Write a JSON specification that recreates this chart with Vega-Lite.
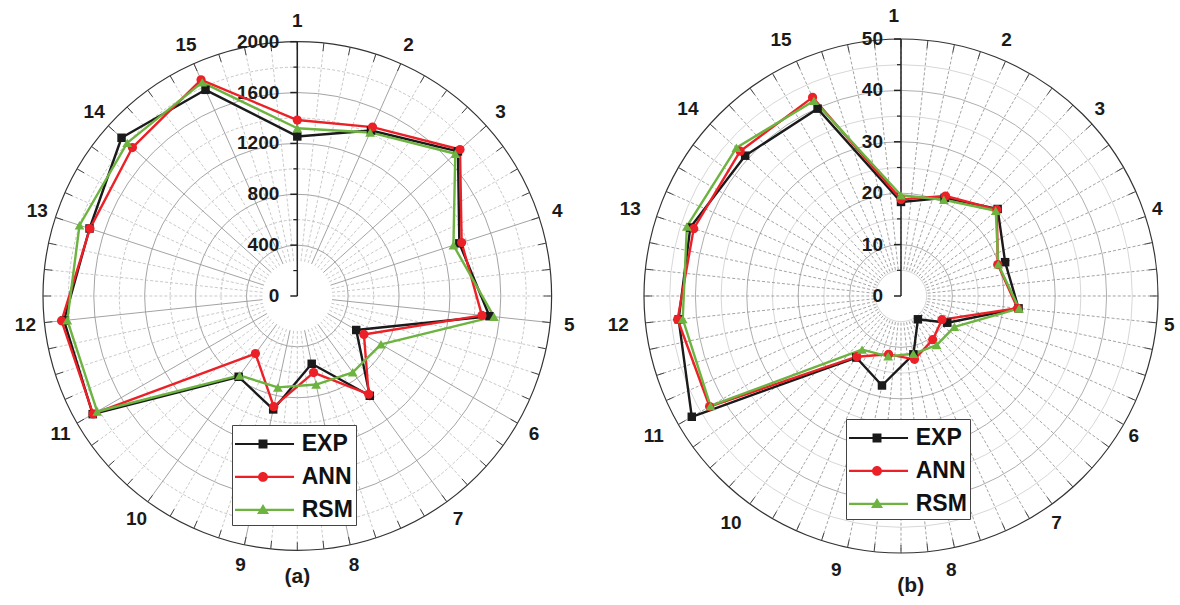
{
  "$schema": "https://vega.github.io/schema/vega-lite/v6.json",
  "width": 1180,
  "height": 605,
  "padding": 0,
  "autosize": {"type": "none"},
  "background": "white",
  "config": {"view": {"stroke": null}},
  "datasets": {
    "a": [
      {"n": 1, "EXP": 1255, "ANN": 1384, "RSM": 1319},
      {"n": 2, "EXP": 1425, "ANN": 1454, "RSM": 1408},
      {"n": 3, "EXP": 1700, "ANN": 1722, "RSM": 1672},
      {"n": 4, "EXP": 1340, "ANN": 1359, "RSM": 1291},
      {"n": 5, "EXP": 1520, "ANN": 1460, "RSM": 1555},
      {"n": 6, "EXP": 535, "ANN": 605, "RSM": 760},
      {"n": 7, "EXP": 970, "ANN": 955, "RSM": 742},
      {"n": 8, "EXP": 545, "ANN": 616, "RSM": 712},
      {"n": 9, "EXP": 912, "ANN": 890, "RSM": 735},
      {"n": 10, "EXP": 785, "ANN": 560, "RSM": 772},
      {"n": 11, "EXP": 1858, "ANN": 1855, "RSM": 1817},
      {"n": 12, "EXP": 1845, "ANN": 1864, "RSM": 1819},
      {"n": 13, "EXP": 1718, "ANN": 1715, "RSM": 1801},
      {"n": 14, "EXP": 1860, "ANN": 1745, "RSM": 1800},
      {"n": 15, "EXP": 1775, "ANN": 1861, "RSM": 1839}
    ],
    "b": [
      {"n": 1, "EXP": 18.3, "ANN": 18.8, "RSM": 19.6},
      {"n": 2, "EXP": 20.9, "ANN": 21.3, "RSM": 20.5},
      {"n": 3, "EXP": 25.3, "ANN": 25.1, "RSM": 24.8},
      {"n": 4, "EXP": 21.3, "ANN": 19.8, "RSM": 19.9},
      {"n": 5, "EXP": 23.0, "ANN": 22.8, "RSM": 23.1},
      {"n": 6, "EXP": 10.4, "ANN": 9.2, "RSM": 12.0},
      {"n": 7, "EXP": 5.6, "ANN": 10.5, "RSM": 11.8},
      {"n": 8, "EXP": 11.6, "ANN": 12.6, "RSM": 11.5},
      {"n": 9, "EXP": 17.8, "ANN": 11.6, "RSM": 12.0},
      {"n": 10, "EXP": 14.8, "ANN": 14.6, "RSM": 12.9},
      {"n": 11, "EXP": 47.0, "ANN": 43.0, "RSM": 42.8},
      {"n": 12, "EXP": 43.5, "ANN": 43.7, "RSM": 42.7},
      {"n": 13, "EXP": 43.1, "ANN": 42.4, "RSM": 43.8},
      {"n": 14, "EXP": 40.8, "ANN": 42.1, "RSM": 43.1},
      {"n": 15, "EXP": 39.9, "ANN": 42.3, "RSM": 41.6}
    ],
    "ang": [
      {"ang": 0}, {"ang": 6}, {"ang": 12}, {"ang": 18}, {"ang": 24}, {"ang": 30}, {"ang": 36}, {"ang": 42}, {"ang": 48}, {"ang": 54},
      {"ang": 60}, {"ang": 66}, {"ang": 72}, {"ang": 78}, {"ang": 84}, {"ang": 90}, {"ang": 96}, {"ang": 102}, {"ang": 108}, {"ang": 114},
      {"ang": 120}, {"ang": 126}, {"ang": 132}, {"ang": 138}, {"ang": 144}, {"ang": 150}, {"ang": 156}, {"ang": 162}, {"ang": 168}, {"ang": 174},
      {"ang": 180}, {"ang": 186}, {"ang": 192}, {"ang": 198}, {"ang": 204}, {"ang": 210}, {"ang": 216}, {"ang": 222}, {"ang": 228}, {"ang": 234},
      {"ang": 240}, {"ang": 246}, {"ang": 252}, {"ang": 258}, {"ang": 264}, {"ang": 270}, {"ang": 276}, {"ang": 282}, {"ang": 288}, {"ang": 294},
      {"ang": 300}, {"ang": 306}, {"ang": 312}, {"ang": 318}, {"ang": 324}, {"ang": 330}, {"ang": 336}, {"ang": 342}, {"ang": 348}, {"ang": 354}
    ]
  },
  "layer": [
    {
      "layer": [
        {
          "data": {"values": [{"v": 600}, {"v": 1000}, {"v": 1400}, {"v": 1800}]},
          "mark": {"type": "arc", "filled": false, "fill": null, "stroke": "#b8b8b8", "strokeWidth": 0.8, "strokeDash": [3, 2], "theta": 0, "theta2": 6.283185307179586},
          "encoding": {
            "x": {"datum": 0, "type": "quantitative", "scale": {"domain": [-2338.2, 6942.2], "nice": false, "zero": false}, "axis": null},
            "y": {"datum": 0, "type": "quantitative", "scale": {"domain": [-2430.2, 2328.0], "nice": false, "zero": false}, "axis": null},
            "radius": {"field": "v", "type": "quantitative", "stack": null, "scale": {"type": "linear", "domain": [0, 2000], "range": [0, 254.3], "zero": true}}
          }
        },
        {
          "data": {"values": [{"v": 400}, {"v": 800}, {"v": 1200}, {"v": 1600}]},
          "mark": {"type": "arc", "filled": false, "fill": null, "stroke": "#9a9a9a", "strokeWidth": 0.9, "theta": 0, "theta2": 6.283185307179586},
          "encoding": {
            "x": {"datum": 0, "type": "quantitative", "scale": {"domain": [-2338.2, 6942.2], "nice": false, "zero": false}, "axis": null},
            "y": {"datum": 0, "type": "quantitative", "scale": {"domain": [-2430.2, 2328.0], "nice": false, "zero": false}, "axis": null},
            "radius": {"field": "v", "type": "quantitative", "stack": null, "scale": {"type": "linear", "domain": [0, 2000], "range": [0, 254.3], "zero": true}}
          }
        },
        {
          "data": {"name": "ang"},
          "transform": [
            {"filter": "datum.ang % 24 != 0"},
            {"calculate": "275*sin(datum.ang*PI/180)", "as": "x1"},
            {"calculate": "275*cos(datum.ang*PI/180)", "as": "y1"},
            {"calculate": "2000*sin(datum.ang*PI/180)", "as": "x2"},
            {"calculate": "2000*cos(datum.ang*PI/180)", "as": "y2"}
          ],
          "mark": {"type": "rule", "stroke": "#bbbbbb", "strokeWidth": 0.8, "strokeDash": [3, 2]},
          "encoding": {
            "x": {"field": "x1", "type": "quantitative", "scale": {"domain": [-2338.2, 6942.2], "nice": false, "zero": false}, "axis": null},
            "y": {"field": "y1", "type": "quantitative", "scale": {"domain": [-2430.2, 2328.0], "nice": false, "zero": false}, "axis": null},
            "x2": {"field": "x2"},
            "y2": {"field": "y2"}
          }
        },
        {
          "data": {"name": "ang"},
          "transform": [
            {"filter": "datum.ang % 24 == 0"},
            {"calculate": "275*sin(datum.ang*PI/180)", "as": "x1"},
            {"calculate": "275*cos(datum.ang*PI/180)", "as": "y1"},
            {"calculate": "2000*sin(datum.ang*PI/180)", "as": "x2"},
            {"calculate": "2000*cos(datum.ang*PI/180)", "as": "y2"}
          ],
          "mark": {"type": "rule", "stroke": "#999999", "strokeWidth": 0.9},
          "encoding": {
            "x": {"field": "x1", "type": "quantitative", "scale": {"domain": [-2338.2, 6942.2], "nice": false, "zero": false}, "axis": null},
            "y": {"field": "y1", "type": "quantitative", "scale": {"domain": [-2430.2, 2328.0], "nice": false, "zero": false}, "axis": null},
            "x2": {"field": "x2"},
            "y2": {"field": "y2"}
          }
        },
        {
          "data": {"values": [{"v": 2000}]},
          "mark": {"type": "arc", "filled": false, "fill": null, "stroke": "#333333", "strokeWidth": 1.2, "theta": 0, "theta2": 6.283185307179586},
          "encoding": {
            "x": {"datum": 0, "type": "quantitative", "scale": {"domain": [-2338.2, 6942.2], "nice": false, "zero": false}, "axis": null},
            "y": {"datum": 0, "type": "quantitative", "scale": {"domain": [-2430.2, 2328.0], "nice": false, "zero": false}, "axis": null},
            "radius": {"field": "v", "type": "quantitative", "stack": null, "scale": {"type": "linear", "domain": [0, 2000], "range": [0, 254.3], "zero": true}}
          }
        },
        {
          "data": {"name": "ang"},
          "transform": [
            {"calculate": "1937*sin(datum.ang*PI/180)", "as": "x1"},
            {"calculate": "1937*cos(datum.ang*PI/180)", "as": "y1"},
            {"calculate": "2000*sin(datum.ang*PI/180)", "as": "x2"},
            {"calculate": "2000*cos(datum.ang*PI/180)", "as": "y2"}
          ],
          "mark": {"type": "rule", "stroke": "#444444", "strokeWidth": 1},
          "encoding": {
            "x": {"field": "x1", "type": "quantitative", "scale": {"domain": [-2338.2, 6942.2], "nice": false, "zero": false}, "axis": null},
            "y": {"field": "y1", "type": "quantitative", "scale": {"domain": [-2430.2, 2328.0], "nice": false, "zero": false}, "axis": null},
            "x2": {"field": "x2"},
            "y2": {"field": "y2"}
          }
        },
        {
          "data": {"values": [{"v": 0}]},
          "mark": {"type": "rule", "stroke": "#222222", "strokeWidth": 1.5},
          "encoding": {
            "x": {"datum": 0, "type": "quantitative", "scale": {"domain": [-2338.2, 6942.2], "nice": false, "zero": false}, "axis": null},
            "y": {"datum": 0, "type": "quantitative", "scale": {"domain": [-2430.2, 2328.0], "nice": false, "zero": false}, "axis": null},
            "y2": {"datum": 2000}
          }
        },
        {
          "data": {"values": [{"v": 0}, {"v": 400}, {"v": 800}, {"v": 1200}, {"v": 1600}, {"v": 2000}]},
          "mark": {"type": "tick", "orient": "horizontal", "size": 7, "thickness": 1.5, "xOffset": -3.5, "color": "#222222", "opacity": 1},
          "encoding": {
            "x": {"datum": 0, "type": "quantitative", "scale": {"domain": [-2338.2, 6942.2], "nice": false, "zero": false}, "axis": null},
            "y": {"field": "v", "type": "quantitative", "scale": {"domain": [-2430.2, 2328.0], "nice": false, "zero": false}, "axis": null}
          }
        },
        {
          "data": {"values": [{"v": 200}, {"v": 600}, {"v": 1000}, {"v": 1400}, {"v": 1800}]},
          "mark": {"type": "tick", "orient": "horizontal", "size": 4, "thickness": 1.2, "xOffset": -2, "color": "#222222", "opacity": 1},
          "encoding": {
            "x": {"datum": 0, "type": "quantitative", "scale": {"domain": [-2338.2, 6942.2], "nice": false, "zero": false}, "axis": null},
            "y": {"field": "v", "type": "quantitative", "scale": {"domain": [-2430.2, 2328.0], "nice": false, "zero": false}, "axis": null}
          }
        },
        {
          "data": {"values": [{"v": 0}, {"v": 400}, {"v": 800}, {"v": 1200}, {"v": 1600}, {"v": 2000}]},
          "mark": {"type": "text", "align": "right", "baseline": "middle", "dx": -18, "font": "Liberation Sans", "fontSize": 19, "fontWeight": "bold", "color": "#1a1a1a"},
          "encoding": {
            "x": {"datum": 0, "type": "quantitative", "scale": {"domain": [-2338.2, 6942.2], "nice": false, "zero": false}, "axis": null},
            "y": {"field": "v", "type": "quantitative", "scale": {"domain": [-2430.2, 2328.0], "nice": false, "zero": false}, "axis": null},
            "text": {"field": "v", "type": "quantitative", "format": "d"}
          }
        },
        {
          "data": {"name": "a"},
          "transform": [
            {"calculate": "2150*sin((datum.n-1)*24*PI/180)", "as": "lx"},
            {"calculate": "2165*cos((datum.n-1)*24*PI/180)", "as": "ly"}
          ],
          "mark": {"type": "text", "align": "center", "baseline": "middle", "font": "Liberation Sans", "fontSize": 19, "fontWeight": "bold", "color": "#1a1a1a"},
          "encoding": {
            "x": {"field": "lx", "type": "quantitative", "scale": {"domain": [-2338.2, 6942.2], "nice": false, "zero": false}, "axis": null},
            "y": {"field": "ly", "type": "quantitative", "scale": {"domain": [-2430.2, 2328.0], "nice": false, "zero": false}, "axis": null},
            "text": {"field": "n", "type": "nominal"}
          }
        },
        {
          "data": {"name": "a"},
          "transform": [
            {"fold": ["EXP", "ANN", "RSM"], "as": ["series", "val"]},
            {"calculate": "datum.val*sin((datum.n-1)*24*PI/180)", "as": "px"},
            {"calculate": "datum.val*cos((datum.n-1)*24*PI/180)", "as": "py"}
          ],
          "mark": {"type": "line", "strokeWidth": 2.4, "strokeJoin": "round"},
          "encoding": {
            "x": {"field": "px", "type": "quantitative", "scale": {"domain": [-2338.2, 6942.2], "nice": false, "zero": false}, "axis": null},
            "y": {"field": "py", "type": "quantitative", "scale": {"domain": [-2430.2, 2328.0], "nice": false, "zero": false}, "axis": null},
            "color": {"field": "series", "type": "nominal", "scale": {"domain": ["EXP", "ANN", "RSM"], "range": ["#1a1a1a", "#ec2027", "#6cb33f"]}, "legend": null},
            "order": {"field": "n", "type": "quantitative"}
          }
        },
        {
          "data": {"name": "a"},
          "transform": [
            {"fold": ["EXP", "ANN", "RSM"], "as": ["series", "val"]},
            {"calculate": "datum.val*sin((datum.n-1)*24*PI/180)", "as": "px"},
            {"calculate": "datum.val*cos((datum.n-1)*24*PI/180)", "as": "py"},
            {"window": [{"op": "first_value", "field": "px", "as": "fx"}, {"op": "first_value", "field": "py", "as": "fy"}], "sort": [{"field": "n"}], "groupby": ["series"], "frame": [null, null]},
            {"filter": "datum.n == 15"}
          ],
          "mark": {"type": "rule", "strokeWidth": 2.4, "strokeCap": "round"},
          "encoding": {
            "x": {"field": "px", "type": "quantitative", "scale": {"domain": [-2338.2, 6942.2], "nice": false, "zero": false}, "axis": null},
            "y": {"field": "py", "type": "quantitative", "scale": {"domain": [-2430.2, 2328.0], "nice": false, "zero": false}, "axis": null},
            "x2": {"field": "fx"},
            "y2": {"field": "fy"},
            "color": {"field": "series", "type": "nominal", "scale": {"domain": ["EXP", "ANN", "RSM"], "range": ["#1a1a1a", "#ec2027", "#6cb33f"]}, "legend": null}
          }
        },
        {
          "data": {"name": "a"},
          "transform": [
            {"fold": ["EXP"], "as": ["series", "val"]},
            {"calculate": "datum.val*sin((datum.n-1)*24*PI/180)", "as": "px"},
            {"calculate": "datum.val*cos((datum.n-1)*24*PI/180)", "as": "py"}
          ],
          "mark": {"type": "point", "shape": "square", "filled": true, "opacity": 1, "size": 72, "strokeWidth": 0},
          "encoding": {
            "x": {"field": "px", "type": "quantitative", "scale": {"domain": [-2338.2, 6942.2], "nice": false, "zero": false}, "axis": null},
            "y": {"field": "py", "type": "quantitative", "scale": {"domain": [-2430.2, 2328.0], "nice": false, "zero": false}, "axis": null},
            "color": {"field": "series", "type": "nominal", "scale": {"domain": ["EXP", "ANN", "RSM"], "range": ["#1a1a1a", "#ec2027", "#6cb33f"]}, "legend": null}
          }
        },
        {
          "data": {"name": "a"},
          "transform": [
            {"fold": ["ANN"], "as": ["series", "val"]},
            {"calculate": "datum.val*sin((datum.n-1)*24*PI/180)", "as": "px"},
            {"calculate": "datum.val*cos((datum.n-1)*24*PI/180)", "as": "py"}
          ],
          "mark": {"type": "point", "shape": "circle", "filled": true, "opacity": 1, "size": 85, "strokeWidth": 0},
          "encoding": {
            "x": {"field": "px", "type": "quantitative", "scale": {"domain": [-2338.2, 6942.2], "nice": false, "zero": false}, "axis": null},
            "y": {"field": "py", "type": "quantitative", "scale": {"domain": [-2430.2, 2328.0], "nice": false, "zero": false}, "axis": null},
            "color": {"field": "series", "type": "nominal", "scale": {"domain": ["EXP", "ANN", "RSM"], "range": ["#1a1a1a", "#ec2027", "#6cb33f"]}, "legend": null}
          }
        },
        {
          "data": {"name": "a"},
          "transform": [
            {"fold": ["RSM"], "as": ["series", "val"]},
            {"calculate": "datum.val*sin((datum.n-1)*24*PI/180)", "as": "px"},
            {"calculate": "datum.val*cos((datum.n-1)*24*PI/180)", "as": "py"}
          ],
          "mark": {"type": "point", "shape": "triangle-up", "filled": true, "opacity": 1, "size": 95, "strokeWidth": 0},
          "encoding": {
            "x": {"field": "px", "type": "quantitative", "scale": {"domain": [-2338.2, 6942.2], "nice": false, "zero": false}, "axis": null},
            "y": {"field": "py", "type": "quantitative", "scale": {"domain": [-2430.2, 2328.0], "nice": false, "zero": false}, "axis": null},
            "color": {"field": "series", "type": "nominal", "scale": {"domain": ["EXP", "ANN", "RSM"], "range": ["#1a1a1a", "#ec2027", "#6cb33f"]}, "legend": null}
          }
        },
        {
          "data": {"name": "a"},
          "transform": [
            {"fold": ["EXP", "ANN", "RSM"], "as": ["series", "val"]},
            {"filter": "datum.n > 100"}
          ],
          "mark": {"type": "point", "filled": true, "size": 1024, "strokeWidth": 0},
          "encoding": {
            "x": {"field": "n", "type": "quantitative", "scale": {"domain": [-2338.2, 6942.2], "nice": false, "zero": false}, "axis": null},
            "y": {"field": "val", "type": "quantitative", "scale": {"domain": [-2430.2, 2328.0], "nice": false, "zero": false}, "axis": null},
            "fill": {"field": "series", "type": "nominal", "scale": {"domain": ["EXP", "ANN", "RSM"], "range": ["#1a1a1a", "#ec2027", "#6cb33f"]}, "legend": {"orient": "none", "legendX": 232, "legendY": 425, "title": null, "padding": 3, "rowPadding": 4.9, "labelFont": "Liberation Sans", "labelFontSize": 23, "labelFontWeight": "bold", "labelColor": "#111111", "labelOffset": 34.7, "labelLimit": 0, "symbolSize": 1024, "symbolStrokeWidth": 0, "symbolOpacity": 1, "strokeColor": "#444444", "fillColor": "white"}},
            "shape": {"field": "series", "type": "nominal", "scale": {"domain": ["EXP", "ANN", "RSM"], "range": ["M-1,-0.07H2.69V0.07H-1Z M0.47,-0.28H1.03V0.28H0.47Z", "M-1,-0.07H2.69V0.07H-1Z M1.06,0A0.31,0.31 0 1,1 0.44,0A0.31,0.31 0 1,1 1.06,0Z", "M-1,-0.07H2.69V0.07H-1Z M0.75,-0.36L1.125,0.27L0.375,0.27Z"]}, "legend": {"orient": "none", "legendX": 232, "legendY": 425, "title": null, "padding": 3, "rowPadding": 4.9, "labelFont": "Liberation Sans", "labelFontSize": 23, "labelFontWeight": "bold", "labelColor": "#111111", "labelOffset": 34.7, "labelLimit": 0, "symbolSize": 1024, "symbolStrokeWidth": 0, "symbolOpacity": 1, "strokeColor": "#444444", "fillColor": "white"}}
          }
        },
        {
          "data": {"values": [{"t": "(a)"}]},
          "mark": {"type": "text", "align": "center", "baseline": "middle", "font": "Liberation Sans", "fontSize": 21, "fontWeight": "bold", "color": "#1a1a1a"},
          "encoding": {
            "x": {"datum": 0, "type": "quantitative", "scale": {"domain": [-2338.2, 6942.2], "nice": false, "zero": false}, "axis": null},
            "y": {"datum": -2210, "type": "quantitative", "scale": {"domain": [-2430.2, 2328.0], "nice": false, "zero": false}, "axis": null},
            "text": {"field": "t", "type": "nominal"}
          }
        }
      ]
    },
    {
      "layer": [
        {
          "data": {"values": [{"v": 5}, {"v": 15}, {"v": 25}, {"v": 35}, {"v": 45}]},
          "mark": {"type": "arc", "filled": false, "fill": null, "stroke": "#d2d2d2", "strokeWidth": 0.9, "theta": 0, "theta2": 6.283185307179586},
          "encoding": {
            "x": {"datum": 0, "type": "quantitative", "scale": {"domain": [-175.29, 54.28], "nice": false, "zero": false}, "axis": null},
            "y": {"datum": 0, "type": "quantitative", "scale": {"domain": [-60.12, 57.59], "nice": false, "zero": false}, "axis": null},
            "radius": {"field": "v", "type": "quantitative", "stack": null, "scale": {"type": "linear", "domain": [0, 50], "range": [0, 257], "zero": true}}
          }
        },
        {
          "data": {"values": [{"v": 10}, {"v": 20}, {"v": 30}, {"v": 40}]},
          "mark": {"type": "arc", "filled": false, "fill": null, "stroke": "#a5a5a5", "strokeWidth": 0.9, "theta": 0, "theta2": 6.283185307179586},
          "encoding": {
            "x": {"datum": 0, "type": "quantitative", "scale": {"domain": [-175.29, 54.28], "nice": false, "zero": false}, "axis": null},
            "y": {"datum": 0, "type": "quantitative", "scale": {"domain": [-60.12, 57.59], "nice": false, "zero": false}, "axis": null},
            "radius": {"field": "v", "type": "quantitative", "stack": null, "scale": {"type": "linear", "domain": [0, 50], "range": [0, 257], "zero": true}}
          }
        },
        {
          "data": {"name": "ang"},
          "transform": [
            {"calculate": "5.2*sin(datum.ang*PI/180)", "as": "x1"},
            {"calculate": "5.2*cos(datum.ang*PI/180)", "as": "y1"},
            {"calculate": "50*sin(datum.ang*PI/180)", "as": "x2"},
            {"calculate": "50*cos(datum.ang*PI/180)", "as": "y2"}
          ],
          "mark": {"type": "rule", "stroke": "#8c8c8c", "strokeWidth": 0.8, "strokeDash": [3, 2]},
          "encoding": {
            "x": {"field": "x1", "type": "quantitative", "scale": {"domain": [-175.29, 54.28], "nice": false, "zero": false}, "axis": null},
            "y": {"field": "y1", "type": "quantitative", "scale": {"domain": [-60.12, 57.59], "nice": false, "zero": false}, "axis": null},
            "x2": {"field": "x2"},
            "y2": {"field": "y2"}
          }
        },
        {
          "data": {"values": [{"v": 50}]},
          "mark": {"type": "arc", "filled": false, "fill": null, "stroke": "#333333", "strokeWidth": 1.2, "theta": 0, "theta2": 6.283185307179586},
          "encoding": {
            "x": {"datum": 0, "type": "quantitative", "scale": {"domain": [-175.29, 54.28], "nice": false, "zero": false}, "axis": null},
            "y": {"datum": 0, "type": "quantitative", "scale": {"domain": [-60.12, 57.59], "nice": false, "zero": false}, "axis": null},
            "radius": {"field": "v", "type": "quantitative", "stack": null, "scale": {"type": "linear", "domain": [0, 50], "range": [0, 257], "zero": true}}
          }
        },
        {
          "data": {"name": "ang"},
          "transform": [
            {"calculate": "48.45*sin(datum.ang*PI/180)", "as": "x1"},
            {"calculate": "48.45*cos(datum.ang*PI/180)", "as": "y1"},
            {"calculate": "50*sin(datum.ang*PI/180)", "as": "x2"},
            {"calculate": "50*cos(datum.ang*PI/180)", "as": "y2"}
          ],
          "mark": {"type": "rule", "stroke": "#444444", "strokeWidth": 1},
          "encoding": {
            "x": {"field": "x1", "type": "quantitative", "scale": {"domain": [-175.29, 54.28], "nice": false, "zero": false}, "axis": null},
            "y": {"field": "y1", "type": "quantitative", "scale": {"domain": [-60.12, 57.59], "nice": false, "zero": false}, "axis": null},
            "x2": {"field": "x2"},
            "y2": {"field": "y2"}
          }
        },
        {
          "data": {"values": [{"v": 0}]},
          "mark": {"type": "rule", "stroke": "#222222", "strokeWidth": 1.5},
          "encoding": {
            "x": {"datum": 0, "type": "quantitative", "scale": {"domain": [-175.29, 54.28], "nice": false, "zero": false}, "axis": null},
            "y": {"datum": 0, "type": "quantitative", "scale": {"domain": [-60.12, 57.59], "nice": false, "zero": false}, "axis": null},
            "y2": {"datum": 50}
          }
        },
        {
          "data": {"values": [{"v": 0}, {"v": 10}, {"v": 20}, {"v": 30}, {"v": 40}, {"v": 50}]},
          "mark": {"type": "tick", "orient": "horizontal", "size": 7, "thickness": 1.5, "xOffset": -3.5, "color": "#222222", "opacity": 1},
          "encoding": {
            "x": {"datum": 0, "type": "quantitative", "scale": {"domain": [-175.29, 54.28], "nice": false, "zero": false}, "axis": null},
            "y": {"field": "v", "type": "quantitative", "scale": {"domain": [-60.12, 57.59], "nice": false, "zero": false}, "axis": null}
          }
        },
        {
          "data": {"values": [{"v": 5}, {"v": 15}, {"v": 25}, {"v": 35}, {"v": 45}]},
          "mark": {"type": "tick", "orient": "horizontal", "size": 4, "thickness": 1.2, "xOffset": -2, "color": "#222222", "opacity": 1},
          "encoding": {
            "x": {"datum": 0, "type": "quantitative", "scale": {"domain": [-175.29, 54.28], "nice": false, "zero": false}, "axis": null},
            "y": {"field": "v", "type": "quantitative", "scale": {"domain": [-60.12, 57.59], "nice": false, "zero": false}, "axis": null}
          }
        },
        {
          "data": {"values": [{"v": 0}, {"v": 10}, {"v": 20}, {"v": 30}, {"v": 40}, {"v": 50}]},
          "mark": {"type": "text", "align": "right", "baseline": "middle", "dx": -18, "font": "Liberation Sans", "fontSize": 19, "fontWeight": "bold", "color": "#1a1a1a"},
          "encoding": {
            "x": {"datum": 0, "type": "quantitative", "scale": {"domain": [-175.29, 54.28], "nice": false, "zero": false}, "axis": null},
            "y": {"field": "v", "type": "quantitative", "scale": {"domain": [-60.12, 57.59], "nice": false, "zero": false}, "axis": null},
            "text": {"field": "v", "type": "quantitative", "format": "d"}
          }
        },
        {
          "data": {"name": "b"},
          "transform": [
            {"calculate": "-1.4+53.9*sin((datum.n-1)*24*PI/180)", "as": "lx"},
            {"calculate": "54.5*cos((datum.n-1)*24*PI/180)", "as": "ly"}
          ],
          "mark": {"type": "text", "align": "center", "baseline": "middle", "font": "Liberation Sans", "fontSize": 19, "fontWeight": "bold", "color": "#1a1a1a"},
          "encoding": {
            "x": {"field": "lx", "type": "quantitative", "scale": {"domain": [-175.29, 54.28], "nice": false, "zero": false}, "axis": null},
            "y": {"field": "ly", "type": "quantitative", "scale": {"domain": [-60.12, 57.59], "nice": false, "zero": false}, "axis": null},
            "text": {"field": "n", "type": "nominal"}
          }
        },
        {
          "data": {"name": "b"},
          "transform": [
            {"fold": ["EXP", "ANN", "RSM"], "as": ["series", "val"]},
            {"calculate": "datum.val*sin((datum.n-1)*24*PI/180)", "as": "px"},
            {"calculate": "datum.val*cos((datum.n-1)*24*PI/180)", "as": "py"}
          ],
          "mark": {"type": "line", "strokeWidth": 2.4, "strokeJoin": "round"},
          "encoding": {
            "x": {"field": "px", "type": "quantitative", "scale": {"domain": [-175.29, 54.28], "nice": false, "zero": false}, "axis": null},
            "y": {"field": "py", "type": "quantitative", "scale": {"domain": [-60.12, 57.59], "nice": false, "zero": false}, "axis": null},
            "color": {"field": "series", "type": "nominal", "scale": {"domain": ["EXP", "ANN", "RSM"], "range": ["#1a1a1a", "#ec2027", "#6cb33f"]}, "legend": null},
            "order": {"field": "n", "type": "quantitative"}
          }
        },
        {
          "data": {"name": "b"},
          "transform": [
            {"fold": ["EXP", "ANN", "RSM"], "as": ["series", "val"]},
            {"calculate": "datum.val*sin((datum.n-1)*24*PI/180)", "as": "px"},
            {"calculate": "datum.val*cos((datum.n-1)*24*PI/180)", "as": "py"},
            {"window": [{"op": "first_value", "field": "px", "as": "fx"}, {"op": "first_value", "field": "py", "as": "fy"}], "sort": [{"field": "n"}], "groupby": ["series"], "frame": [null, null]},
            {"filter": "datum.n == 15"}
          ],
          "mark": {"type": "rule", "strokeWidth": 2.4, "strokeCap": "round"},
          "encoding": {
            "x": {"field": "px", "type": "quantitative", "scale": {"domain": [-175.29, 54.28], "nice": false, "zero": false}, "axis": null},
            "y": {"field": "py", "type": "quantitative", "scale": {"domain": [-60.12, 57.59], "nice": false, "zero": false}, "axis": null},
            "x2": {"field": "fx"},
            "y2": {"field": "fy"},
            "color": {"field": "series", "type": "nominal", "scale": {"domain": ["EXP", "ANN", "RSM"], "range": ["#1a1a1a", "#ec2027", "#6cb33f"]}, "legend": null}
          }
        },
        {
          "data": {"name": "b"},
          "transform": [
            {"fold": ["EXP"], "as": ["series", "val"]},
            {"calculate": "datum.val*sin((datum.n-1)*24*PI/180)", "as": "px"},
            {"calculate": "datum.val*cos((datum.n-1)*24*PI/180)", "as": "py"}
          ],
          "mark": {"type": "point", "shape": "square", "filled": true, "opacity": 1, "size": 72, "strokeWidth": 0},
          "encoding": {
            "x": {"field": "px", "type": "quantitative", "scale": {"domain": [-175.29, 54.28], "nice": false, "zero": false}, "axis": null},
            "y": {"field": "py", "type": "quantitative", "scale": {"domain": [-60.12, 57.59], "nice": false, "zero": false}, "axis": null},
            "color": {"field": "series", "type": "nominal", "scale": {"domain": ["EXP", "ANN", "RSM"], "range": ["#1a1a1a", "#ec2027", "#6cb33f"]}, "legend": null}
          }
        },
        {
          "data": {"name": "b"},
          "transform": [
            {"fold": ["ANN"], "as": ["series", "val"]},
            {"calculate": "datum.val*sin((datum.n-1)*24*PI/180)", "as": "px"},
            {"calculate": "datum.val*cos((datum.n-1)*24*PI/180)", "as": "py"}
          ],
          "mark": {"type": "point", "shape": "circle", "filled": true, "opacity": 1, "size": 85, "strokeWidth": 0},
          "encoding": {
            "x": {"field": "px", "type": "quantitative", "scale": {"domain": [-175.29, 54.28], "nice": false, "zero": false}, "axis": null},
            "y": {"field": "py", "type": "quantitative", "scale": {"domain": [-60.12, 57.59], "nice": false, "zero": false}, "axis": null},
            "color": {"field": "series", "type": "nominal", "scale": {"domain": ["EXP", "ANN", "RSM"], "range": ["#1a1a1a", "#ec2027", "#6cb33f"]}, "legend": null}
          }
        },
        {
          "data": {"name": "b"},
          "transform": [
            {"fold": ["RSM"], "as": ["series", "val"]},
            {"calculate": "datum.val*sin((datum.n-1)*24*PI/180)", "as": "px"},
            {"calculate": "datum.val*cos((datum.n-1)*24*PI/180)", "as": "py"}
          ],
          "mark": {"type": "point", "shape": "triangle-up", "filled": true, "opacity": 1, "size": 95, "strokeWidth": 0},
          "encoding": {
            "x": {"field": "px", "type": "quantitative", "scale": {"domain": [-175.29, 54.28], "nice": false, "zero": false}, "axis": null},
            "y": {"field": "py", "type": "quantitative", "scale": {"domain": [-60.12, 57.59], "nice": false, "zero": false}, "axis": null},
            "color": {"field": "series", "type": "nominal", "scale": {"domain": ["EXP", "ANN", "RSM"], "range": ["#1a1a1a", "#ec2027", "#6cb33f"]}, "legend": null}
          }
        },
        {
          "data": {"name": "b"},
          "transform": [
            {"fold": ["EXP", "ANN", "RSM"], "as": ["series", "val"]},
            {"filter": "datum.n > 100"}
          ],
          "mark": {"type": "point", "filled": true, "size": 1024, "strokeWidth": 0},
          "encoding": {
            "x": {"field": "n", "type": "quantitative", "scale": {"domain": [-175.29, 54.28], "nice": false, "zero": false}, "axis": null},
            "y": {"field": "val", "type": "quantitative", "scale": {"domain": [-60.12, 57.59], "nice": false, "zero": false}, "axis": null},
            "fill": {"field": "series", "type": "nominal", "scale": {"domain": ["EXP", "ANN", "RSM"], "range": ["#1a1a1a", "#ec2027", "#6cb33f"]}, "legend": {"orient": "none", "legendX": 846, "legendY": 419, "title": null, "padding": 3, "rowPadding": 4.9, "labelFont": "Liberation Sans", "labelFontSize": 23, "labelFontWeight": "bold", "labelColor": "#111111", "labelOffset": 34.7, "labelLimit": 0, "symbolSize": 1024, "symbolStrokeWidth": 0, "symbolOpacity": 1, "strokeColor": "#444444", "fillColor": "white"}},
            "shape": {"field": "series", "type": "nominal", "scale": {"domain": ["EXP", "ANN", "RSM"], "range": ["M-1,-0.07H2.69V0.07H-1Z M0.47,-0.28H1.03V0.28H0.47Z", "M-1,-0.07H2.69V0.07H-1Z M1.06,0A0.31,0.31 0 1,1 0.44,0A0.31,0.31 0 1,1 1.06,0Z", "M-1,-0.07H2.69V0.07H-1Z M0.75,-0.36L1.125,0.27L0.375,0.27Z"]}, "legend": {"orient": "none", "legendX": 846, "legendY": 419, "title": null, "padding": 3, "rowPadding": 4.9, "labelFont": "Liberation Sans", "labelFontSize": 23, "labelFontWeight": "bold", "labelColor": "#111111", "labelOffset": 34.7, "labelLimit": 0, "symbolSize": 1024, "symbolStrokeWidth": 0, "symbolOpacity": 1, "strokeColor": "#444444", "fillColor": "white"}}
          }
        },
        {
          "data": {"values": [{"t": "(b)"}]},
          "mark": {"type": "text", "align": "center", "baseline": "middle", "font": "Liberation Sans", "fontSize": 21, "fontWeight": "bold", "color": "#1a1a1a"},
          "encoding": {
            "x": {"datum": 1.9, "type": "quantitative", "scale": {"domain": [-175.29, 54.28], "nice": false, "zero": false}, "axis": null},
            "y": {"datum": -56.4, "type": "quantitative", "scale": {"domain": [-60.12, 57.59], "nice": false, "zero": false}, "axis": null},
            "text": {"field": "t", "type": "nominal"}
          }
        }
      ]
    }
  ],
  "resolve": {
    "scale": {"x": "independent", "y": "independent", "radius": "independent", "shape": "independent", "fill": "independent"},
    "legend": {"shape": "independent", "fill": "independent"}
  }
}
